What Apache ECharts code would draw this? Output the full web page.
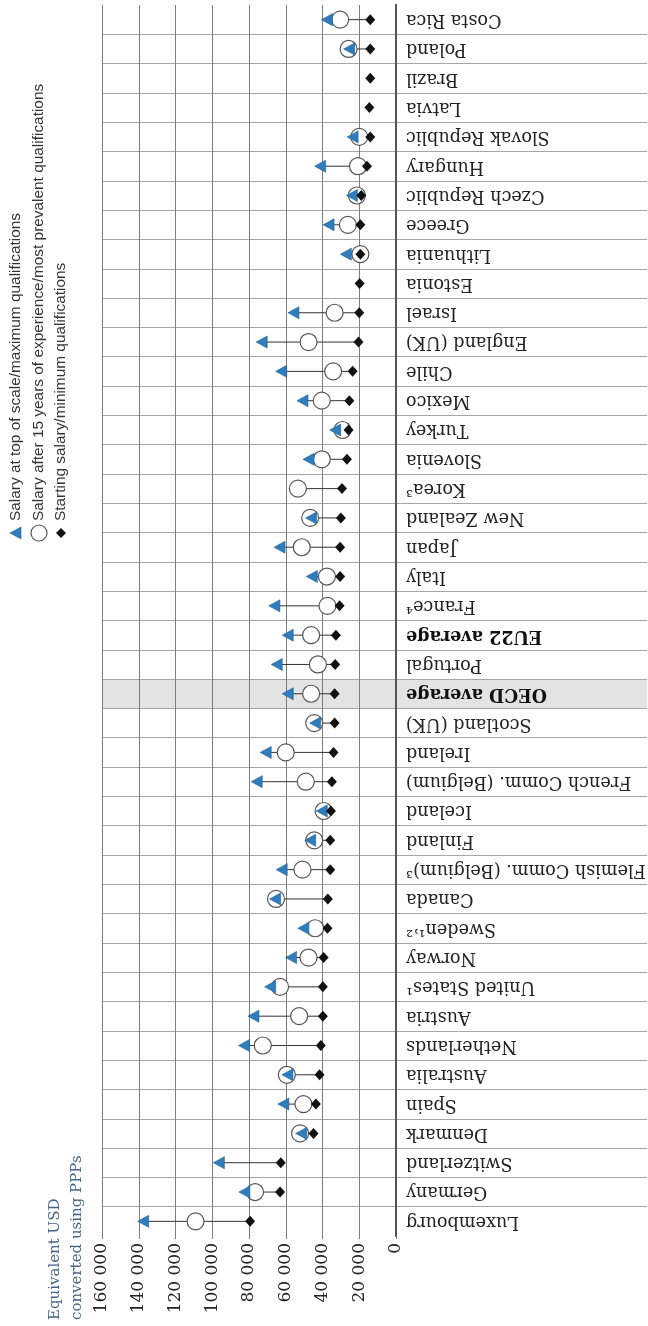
<!DOCTYPE html>
<html>
<head>
<meta charset="utf-8">
<script src="https://cdn.jsdelivr.net/npm/echarts@6/dist/echarts.min.js"></script>
<style>
html,body{margin:0;padding:0;background:#fff;}
#chart{width:648px;height:1326px;}
</style>
</head>
<body>
<div id="chart"></div>
<script>
// Categories listed bottom-to-top (Luxembourg at bottom)
const countries = ['Luxembourg','Germany','Switzerland','Denmark','Spain','Australia','Netherlands','Austria','United States¹','Norway','Sweden¹˒²','Canada','Flemish Comm. (Belgium)³','Finland','Iceland','French Comm. (Belgium)','Ireland','Scotland (UK)','OECD average','Portugal','EU22 average','France⁴','Italy','Japan','New Zealand','Korea³','Slovenia','Turkey','Mexico','Chile','England (UK)','Israel','Estonia','Lithuania','Greece','Czech Republic','Hungary','Slovak Republic','Latvia','Brazil','Poland','Costa Rica'];
// Starting salary / minimum qualifications (diamond)
const startSalary = [79400,63100,62700,44900,43600,41600,40900,39800,39800,39400,37300,37100,35800,35800,35400,34900,34000,33400,33400,33100,32700,30700,30400,30400,30000,29400,26700,25800,25400,23600,20400,20000,19800,19400,19400,18900,15800,14000,14500,14000,14000,14000];
// Salary after 15 years of experience / most prevalent qualifications (circle)
const midSalary = [109100,76700,null,52200,50400,59400,72500,52700,63100,47600,44000,65300,50900,44500,39400,49100,60000,44500,46200,42500,46200,37300,37600,51300,46700,53400,40400,29100,40400,34200,47600,33400,null,19400,26200,21300,20700,20000,null,null,25800,30400];
// Salary at top of scale / maximum qualifications (triangle)
const topSalary = [137600,82500,96400,51600,61300,59100,82700,77600,68500,57100,50400,65800,62200,46700,40400,75800,70900,44000,58900,64900,58900,66200,45800,63400,46200,null,47600,33100,50900,62500,73100,55800,null,27300,36700,24000,41300,23600,null,null,25500,37600];
const boldCategories = ['OECD average','EU22 average'];
const highlightCategory = 'OECD average';
const axisMin = 0, axisMax = 160000, axisStep = 20000;
const legendLabels = ['Salary at top of scale/maximum qualifications','Salary after 15 years of experience/most prevalent qualifications','Starting salary/minimum qualifications'];
const axisTitle = ['Equivalent USD','converted using PPPs'];

const SERIF = '"DejaVu Serif", serif';
const SANS = '"Liberation Sans", Arial, sans-serif';
const BLUE = '#2f7dbd';

function fmt(v){ return String(v).replace(/\B(?=(\d{3})+(?!\d))/g,' '); }
function pts(arr){ const out=[]; arr.forEach((v,i)=>{ if(v!=null) out.push([v,i]); }); return out; }
const spans = [];
countries.forEach((c,i)=>{
  const vals=[startSalary[i],midSalary[i],topSalary[i]].filter(v=>v!=null);
  if(vals.length>1) spans.push([i, Math.min(...vals), Math.max(...vals)]);
});

const chart = echarts.init(document.getElementById('chart'), null, {renderer:'canvas'});
chart.setOption({
  animation:false,
  backgroundColor:'#fff',
  grid:[
    {left:102, top:5, width:294, bottom:90},
    {left:396, top:5, right:0, bottom:90}
  ],
  xAxis:[
    {gridIndex:0, type:'value', min:axisMin, max:axisMax, interval:axisStep, inverse:true, position:'bottom',
     axisLine:{show:false},
     axisTick:{show:true, length:3, lineStyle:{color:'#7d7d7d'}},
     splitLine:{show:true, lineStyle:{color:'#7d7d7d', width:1}},
     axisLabel:{rotate:90, margin:7, color:'#222', fontFamily:SERIF, fontSize:17, formatter:v=>fmt(v)}},
    {gridIndex:1, type:'value', min:0, max:1, show:false}
  ],
  yAxis:[
    {gridIndex:0, type:'category', data:countries, position:'left',
     axisLine:{show:true, lineStyle:{color:'#555', width:2}},
     axisTick:{show:false}, axisLabel:{show:false},
     splitLine:{show:true, showMinLine:false, showMaxLine:false, lineStyle:{color:'#a6a6a6', width:1}}},
    {gridIndex:1, type:'category', data:countries, position:'left',
     axisLine:{show:true, lineStyle:{color:'#555', width:2}},
     axisTick:{show:false},
     splitLine:{show:true, showMinLine:false, showMaxLine:false, lineStyle:{color:'#a6a6a6', width:1}},
     axisLabel:{show:true, inside:true, interval:0, rotate:180, align:'right', verticalAlign:'middle', margin:10,
       color:'#222', fontFamily:SERIF, fontSize:17.6,
       formatter:v=> boldCategories.includes(v) ? '{b|'+v+'}' : v,
       rich:{b:{fontWeight:'bold', fontFamily:SERIF, fontSize:17.6, color:'#111'}}}}
  ],
  series:[
    {type:'bar', xAxisIndex:0, yAxisIndex:0, z:-1, silent:true, barCategoryGap:'0%', barWidth:'100%',
     itemStyle:{color:'#e3e3e3'},
     data:countries.map(c=> c===highlightCategory ? axisMax : null)},
    {type:'bar', xAxisIndex:1, yAxisIndex:1, z:-1, silent:true, barCategoryGap:'0%', barWidth:'100%',
     itemStyle:{color:'#e3e3e3'},
     data:countries.map(c=> c===highlightCategory ? 1 : null)},
    {type:'custom', xAxisIndex:0, yAxisIndex:0, z:3, silent:true,
     encode:{x:[1,2], y:0},
     renderItem:(params, api)=>{
       const a = api.coord([api.value(1), api.value(0)]);
       const b = api.coord([api.value(2), api.value(0)]);
       return {type:'line', shape:{x1:a[0], y1:a[1], x2:b[0], y2:b[1]}, style:{stroke:'#333', lineWidth:1}};
     },
     data:spans},
    {name:legendLabels[1], type:'scatter', xAxisIndex:0, yAxisIndex:0, z:4, symbol:'circle', symbolSize:17,
     itemStyle:{color:'#fff', borderColor:'#555', borderWidth:1.2, opacity:1}, data:pts(midSalary)},
    {name:legendLabels[0], type:'scatter', xAxisIndex:0, yAxisIndex:0, z:5, symbol:'triangle', symbolSize:[12,11], symbolRotate:90,
     itemStyle:{color:BLUE, borderColor:'#1e5f94', borderWidth:0.6, opacity:1}, data:pts(topSalary)},
    {name:legendLabels[2], type:'scatter', xAxisIndex:0, yAxisIndex:0, z:6, symbol:'diamond', symbolSize:[10,11],
     itemStyle:{color:'#111', opacity:1}, data:pts(startSalary)}
  ],
  graphic:[
    {type:'group', x:16, y:533, rotation:Math.PI/2, silent:true, children:[
      {type:'polygon', shape:{points:[[0,-6],[6,5],[-6,5]]}, style:{fill:BLUE, stroke:'#1e5f94', lineWidth:0.6}},
      {type:'text', x:12, y:0, style:{text:legendLabels[0], fontFamily:SANS, fontSize:15.4, fill:'#333', verticalAlign:'middle', align:'left'}},
      {type:'circle', shape:{cx:0, cy:23, r:8}, style:{fill:'#fff', stroke:'#555', lineWidth:1.2}},
      {type:'text', x:12, y:23, style:{text:legendLabels[1], fontFamily:SANS, fontSize:15.4, fill:'#333', verticalAlign:'middle', align:'left'}},
      {type:'polygon', shape:{points:[[0,40],[5,45],[0,50],[-5,45]]}, style:{fill:'#111'}},
      {type:'text', x:12, y:45, style:{text:legendLabels[2], fontFamily:SANS, fontSize:15.4, fill:'#333', verticalAlign:'middle', align:'left'}}
    ]},
    {type:'group', x:55, y:1320, rotation:Math.PI/2, silent:true, children:[
      {type:'text', x:0, y:0, style:{text:axisTitle[0], fontFamily:SERIF, fontSize:15, fill:'#46648a', verticalAlign:'middle', align:'left'}},
      {type:'text', x:0, y:22, style:{text:axisTitle[1], fontFamily:SERIF, fontSize:15, fill:'#46648a', verticalAlign:'middle', align:'left'}}
    ]}
  ]
});
</script>
</body>
</html>
